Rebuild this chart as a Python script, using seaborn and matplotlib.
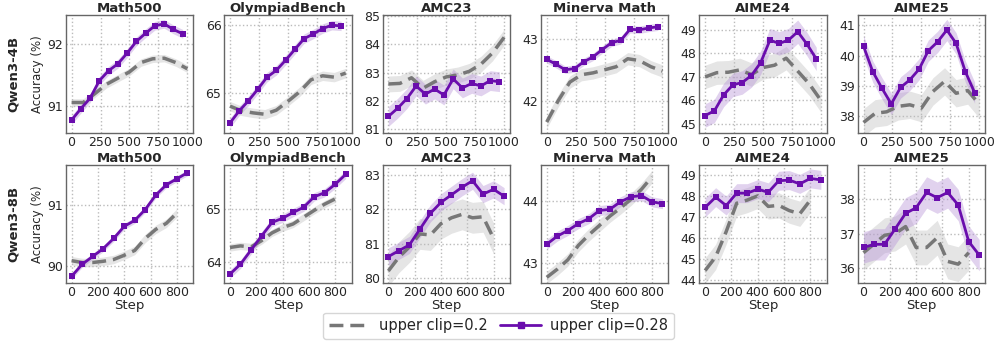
import matplotlib
matplotlib.use("Agg")
import matplotlib.pyplot as plt
from matplotlib.ticker import MultipleLocator
from matplotlib.lines import Line2D
import seaborn as sns

sns.set_theme(style="whitegrid")
plt.rcParams["font.family"] = ["DejaVu Sans"]
plt.rcParams["axes.edgecolor"] = "#666666"
plt.rcParams["axes.linewidth"] = 1.0
plt.rcParams["grid.linestyle"] = ":"
plt.rcParams["grid.color"] = "#bbbbbb"

benchmarks = ["Math500", "OlympiadBench", "AMC23", "Minerva Math", "AIME24", "AIME25"]
models = ["Qwen3-4B", "Qwen3-8B"]

# training steps
steps_4b = [0, 80, 160, 240, 320, 400, 480, 560, 640, 720, 800, 880, 960]
steps_4b_base = [0, 100, 200, 300, 400, 500, 600, 700, 800, 900, 1000]
steps_8b = [0, 80, 160, 240, 320, 400, 480, 560, 640, 720, 800, 880]
steps_8b_base = [0, 80, 160, 240, 320, 400, 480, 560, 640, 720, 800]

# Qwen3-4B, upper clip=0.28
q4_math500_hi = [90.78, 90.96, 91.13, 91.41, 91.57, 91.68, 91.85, 92.04, 92.17, 92.29, 92.32, 92.23, 92.16]
q4_olymp_hi = [64.55, 64.73, 64.88, 65.05, 65.23, 65.33, 65.48, 65.64, 65.80, 65.87, 65.95, 66.0, 65.99]
q4_amc_hi = [81.45, 81.74, 82.08, 82.53, 82.24, 82.42, 82.21, 82.78, 82.46, 82.62, 82.53, 82.72, 82.68]
q4_minerva_hi = [42.67, 42.59, 42.50, 42.52, 42.63, 42.71, 42.83, 42.94, 42.98, 43.16, 43.15, 43.18, 43.20]
q4_aime24_hi = [45.35, 45.55, 46.23, 46.66, 46.76, 47.06, 47.61, 48.57, 48.43, 48.57, 48.93, 48.40, 47.77]
q4_aime25_hi = [40.31, 39.47, 38.92, 38.41, 38.95, 39.20, 39.55, 40.16, 40.45, 40.84, 40.40, 39.47, 38.78]

# Qwen3-4B, upper clip=0.2
q4_math500_lo = [91.06, 91.06, 91.20, 91.35, 91.45, 91.55, 91.70, 91.76, 91.77, 91.70, 91.60]
q4_olymp_lo = [64.80, 64.73, 64.70, 64.68, 64.74, 64.87, 65.01, 65.19, 65.25, 65.23, 65.29]
q4_amc_lo = [82.60, 82.62, 82.82, 82.45, 82.68, 82.85, 82.92, 83.05, 83.30, 83.70, 84.25]
q4_minerva_lo = [41.65, 42.0, 42.30, 42.42, 42.45, 42.50, 42.55, 42.68, 42.65, 42.55, 42.48]
q4_aime24_lo = [47.0, 47.18, 47.20, 47.30, 47.10, 47.40, 47.50, 47.80, 47.25, 46.70, 46.0]
q4_aime25_lo = [37.80, 38.10, 38.15, 38.33, 38.38, 38.27, 38.82, 39.15, 38.76, 38.85, 38.40]

# Qwen3-8B, upper clip=0.28
q8_math500_hi = [89.82, 90.02, 90.15, 90.28, 90.45, 90.65, 90.75, 90.93, 91.17, 91.34, 91.44, 91.54]
q8_olymp_hi = [63.76, 63.95, 64.22, 64.49, 64.75, 64.83, 64.94, 65.04, 65.24, 65.32, 65.48, 65.67]
q8_amc_hi = [80.62, 80.79, 80.96, 81.42, 81.88, 82.20, 82.42, 82.64, 82.83, 82.44, 82.58, 82.38]
q8_minerva_hi = [43.30, 43.43, 43.52, 43.63, 43.71, 43.84, 43.86, 43.98, 44.06, 44.08, 43.98, 43.95]
q8_aime24_hi = [47.45, 47.94, 47.54, 48.13, 48.13, 48.32, 48.17, 48.72, 48.75, 48.57, 48.83, 48.76]
q8_aime25_hi = [36.60, 36.69, 36.69, 37.13, 37.58, 37.74, 38.18, 38.03, 38.18, 37.82, 36.77, 36.38]

# Qwen3-8B, upper clip=0.2
q8_math500_lo = [90.08, 90.05, 90.05, 90.07, 90.10, 90.17, 90.25, 90.45, 90.60, 90.70, 90.87]
q8_olymp_lo = [64.27, 64.30, 64.28, 64.40, 64.55, 64.65, 64.72, 64.85, 64.98, 65.10, 65.20]
q8_amc_lo = [80.20, 80.60, 80.90, 81.28, 81.25, 81.58, 81.75, 81.85, 81.75, 81.78, 81.15]
q8_minerva_lo = [42.77, 42.90, 43.05, 43.28, 43.45, 43.60, 43.75, 43.88, 44.02, 44.18, 44.38]
q8_aime24_lo = [44.45, 45.10, 46.30, 47.65, 47.80, 48.0, 47.50, 47.55, 47.30, 47.15, 47.80]
q8_aime25_lo = [36.45, 36.70, 36.95, 37.0, 37.20, 36.60, 36.60, 36.88, 36.20, 36.12, 36.45]

# half width of the shaded band, per benchmark
band_q4_hi = [0.07, 0.07, 0.35, 0.06, 0.5, 0.35]
band_q4_lo = [0.06, 0.07, 0.28, 0.1, 0.5, 0.45]
band_q8_hi = [0.05, 0.08, 0.25, 0.08, 0.45, 0.45]
band_q8_lo = [0.07, 0.07, 0.45, 0.1, 0.6, 0.5]

ylims_4b = [(90.57, 92.46), (64.4, 66.15), (80.86, 85.04), (41.47, 43.39), (44.6, 49.64), (37.45, 41.33)]
ylims_8b = [(89.71, 91.67), (63.59, 65.85), (79.85, 83.29), (42.68, 44.57), (43.86, 49.47), (35.58, 38.97)]

rows = [
    (steps_4b, steps_4b_base,
     [q4_math500_hi, q4_olymp_hi, q4_amc_hi, q4_minerva_hi, q4_aime24_hi, q4_aime25_hi],
     [q4_math500_lo, q4_olymp_lo, q4_amc_lo, q4_minerva_lo, q4_aime24_lo, q4_aime25_lo],
     band_q4_hi, band_q4_lo, ylims_4b),
    (steps_8b, steps_8b_base,
     [q8_math500_hi, q8_olymp_hi, q8_amc_hi, q8_minerva_hi, q8_aime24_hi, q8_aime25_hi],
     [q8_math500_lo, q8_olymp_lo, q8_amc_lo, q8_minerva_lo, q8_aime24_lo, q8_aime25_lo],
     band_q8_hi, band_q8_lo, ylims_8b),
]

purple = "#6a0dad"
gray = "#777777"

fig, axes = plt.subplots(2, 6, figsize=(9.97, 3.43), dpi=100)
plt.subplots_adjust(left=0.066, right=0.988, top=0.956, bottom=0.175, wspace=0.244, hspace=0.27)

for r, (xs, xs_base, his, los, bh, bl, ylims) in enumerate(rows):
    for c in range(6):
        ax = axes[r, c]
        hi = his[c]
        lo = los[c]
        ax.fill_between(xs_base, [v - bl[c] for v in lo], [v + bl[c] for v in lo],
                        color="#bbbbbb", alpha=0.38, linewidth=0)
        ax.fill_between(xs, [v - bh[c] for v in hi], [v + bh[c] for v in hi],
                        color="#b48fd6", alpha=0.4, linewidth=0)
        sns.lineplot(x=xs_base, y=lo, ax=ax, color=gray, linewidth=2.5,
                     linestyle=(0, (4, 2)))
        sns.lineplot(x=xs, y=hi, ax=ax, color=purple, linewidth=2,
                     marker="s", markersize=4, markeredgewidth=0)
        ax.set_ylim(*ylims[c])
        ax.yaxis.set_major_locator(MultipleLocator(1))
        if r == 0:
            ax.set_xlim(-50, 1050)
            ax.set_xticks([0, 250, 500, 750, 1000])
            ax.set_xlabel("")
        else:
            ax.set_xlim(-44, 924)
            ax.set_xticks([0, 200, 400, 600, 800])
            ax.set_xlabel("Step", fontsize=9.5, labelpad=0)
        if c == 0:
            ax.set_ylabel("Accuracy (%)", fontsize=8.5, labelpad=2)
        ax.set_title(benchmarks[c], fontsize=9.5, fontweight="bold", pad=2)
        ax.tick_params(labelsize=9, pad=2, length=0)
        ax.grid(True, linestyle=":", color="#bbbbbb")

fig.text(0.013, 0.784, models[0], rotation=90, fontsize=9.5, fontweight="bold", ha="center", va="center")
fig.text(0.013, 0.347, models[1], rotation=90, fontsize=9.5, fontweight="bold", ha="center", va="center")

handles = [
    Line2D([0], [0], color=gray, linewidth=2.5, linestyle=(0, (4, 2))),
    Line2D([0], [0], color=purple, linewidth=2, marker="s", markersize=4),
]
fig.legend(handles, ["upper clip=0.2", "upper clip=0.28"], loc="center",
           bbox_to_anchor=(0.5, 0.05), ncol=2, fontsize=10.5, frameon=True,
           handlelength=2.8, handletextpad=0.6, columnspacing=0.9,
           edgecolor="#cccccc")

plt.savefig("out.png", dpi=100)
